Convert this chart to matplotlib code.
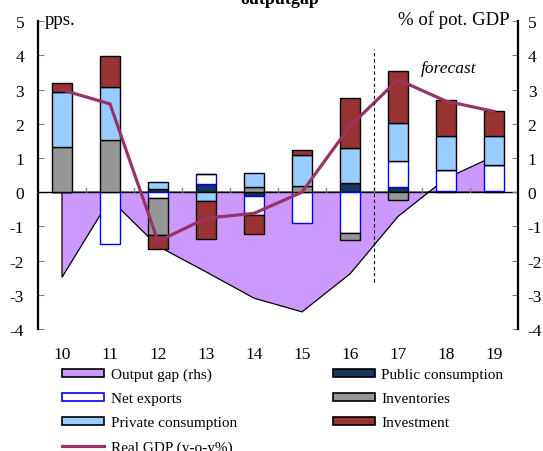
import numpy as np
import matplotlib
matplotlib.use("Agg")
import matplotlib.pyplot as plt
from matplotlib.patches import Patch
from matplotlib.lines import Line2D

plt.rcParams['font.family'] = ['Liberation Serif', 'DejaVu Serif']
plt.rcParams['axes.unicode_minus'] = False

years = ['10', '11', '12', '13', '14', '15', '16', '17', '18', '19']
public_cons = [0, 0, 0.08, 0.25, -0.12, 0, 0.28, 0.16, 0.03, 0.03]
net_exports = [0, -1.52, -0.17, 0.28, -0.56, -0.90, -1.18, 0.75, 0.62, 0.77]
inventories = [1.33, 1.52, -1.07, 0, 0.15, 0.18, -0.21, -0.24, 0, 0]
private_cons = [1.61, 1.54, 0.22, -0.26, 0.42, 0.91, 1.02, 1.12, 1.00, 0.85]
investment = [0.25, 0.92, -0.42, -1.10, -0.54, 0.14, 1.46, 1.51, 1.03, 0.71]
real_gdp = [2.99, 2.58, -1.44, -0.76, -0.62, 0.0, 1.93, 3.29, 2.66, 2.36]
output_gap = [-2.49, -0.20, -1.58, -2.33, -3.10, -3.50, -2.39, -0.71, 0.40, 1.05]

# series order = stacking order (Excel style, pos and neg stacked apart)
series = [
    ('Public consumption', public_cons, '#17375E', 'black'),
    ('Net exports', net_exports, 'white', '#0000FF'),
    ('Inventories', inventories, '#969696', 'black'),
    ('Private consumption', private_cons, '#99CCFF', 'black'),
    ('Investment', investment, '#993333', 'black'),
]

fig = plt.figure(figsize=(5.43, 4.52), dpi=100)
ax = fig.add_axes([0.070, 0.270, 0.884, 0.681])
x = np.arange(len(years))

# output gap area (rhs, same scale so drawn on main axes to stay behind bars)
poly_x = np.concatenate([[x[0]], x, [x[-1]]])
poly_y = np.concatenate([[0], output_gap, [0]])
ax.fill(poly_x, poly_y, facecolor='#CC99FF', edgecolor='black', lw=0.9, zorder=1)

pos_base = np.zeros(len(x))
neg_base = np.zeros(len(x))
for name, vals, fc, ec in series:
    v = np.array(vals, dtype=float)
    base = np.where(v >= 0, pos_base, neg_base)
    ax.bar(x, v, 0.41, bottom=base, color=fc, edgecolor=ec, lw=1.0, zorder=3)
    pos_base = pos_base + np.where(v > 0, v, 0)
    neg_base = neg_base + np.where(v < 0, v, 0)

ax.axhline(0, color='black', lw=1.0, zorder=2)
ax.plot(x, real_gdp, color='#993366', lw=2.3, zorder=4)

ax.plot([6.5, 6.5], [-2.62, 4.2], color='black', lw=0.8, ls=(0, (3, 2.5)), zorder=4)
ax.text(8.06, 3.64, 'forecast', fontsize=12.5, style='italic', ha='center', va='center')

ax.set_xlim(-0.5, 9.5)
ax.set_ylim(-4, 5)
ax.set_yticks(range(-4, 6))
ax.set_yticklabels([str(t) for t in range(-4, 6)], fontsize=12.5)
ax.tick_params(axis='y', direction='in', length=4, color='#808080', pad=10)
ax.set_xticks(x)
ax.set_xticklabels(years, fontsize=12.5)
ax.tick_params(axis='x', length=0, pad=12)
for xb in np.arange(0.5, 9, 1):
    ax.plot([xb, xb], [0, 0.13], color='#808080', lw=0.9, zorder=2)
for s in ['top', 'bottom']:
    ax.spines[s].set_visible(False)
ax.spines['left'].set_linewidth(1.6)
ax.spines['right'].set_visible(False)

ax2 = ax.twinx()
ax2.set_ylim(-4, 5)
ax2.set_yticks(range(-4, 6))
ax2.set_yticklabels([str(t) for t in range(-4, 6)], fontsize=12.5)
ax2.tick_params(axis='y', direction='in', length=4, color='#808080', pad=7)
for s in ['top', 'bottom', 'left']:
    ax2.spines[s].set_visible(False)
ax2.spines['right'].set_linewidth(1.6)

ax.text(0.013, 0.990, 'pps.', transform=ax.transAxes, fontsize=13.5, va='baseline', ha='left')
ax.text(0.983, 0.990, '% of pot. GDP', transform=ax.transAxes, fontsize=13.5, va='baseline', ha='right')

fig.text(0.516, 1 - 4 / 452, 'outputgap', fontsize=13, fontweight='bold', ha='center', va='baseline')

handles = [
    Patch(facecolor='#CC99FF', edgecolor='black', lw=1.2, label='Output gap (rhs)'),
    Patch(facecolor='white', edgecolor='#0000FF', lw=1.2, label='Net exports'),
    Patch(facecolor='#99CCFF', edgecolor='black', lw=1.2, label='Private consumption'),
    Line2D([0], [0], color='#993366', lw=2.3, label='Real GDP (y-o-y%)'),
    Patch(facecolor='#17375E', edgecolor='black', lw=1.2, label='Public consumption'),
    Patch(facecolor='#969696', edgecolor='black', lw=1.2, label='Inventories'),
    Patch(facecolor='#993333', edgecolor='black', lw=1.2, label='Investment'),
]
fig.legend(handles=handles, ncol=2, loc='upper left', bbox_to_anchor=(0.115, 1 - 369 / 452),
           frameon=False, fontsize=11, handlelength=2.75, handleheight=0.5,
           handletextpad=0.4, labelspacing=0.72, columnspacing=6.3,
           borderpad=0, borderaxespad=0)

fig.savefig('out.png', dpi=100)
